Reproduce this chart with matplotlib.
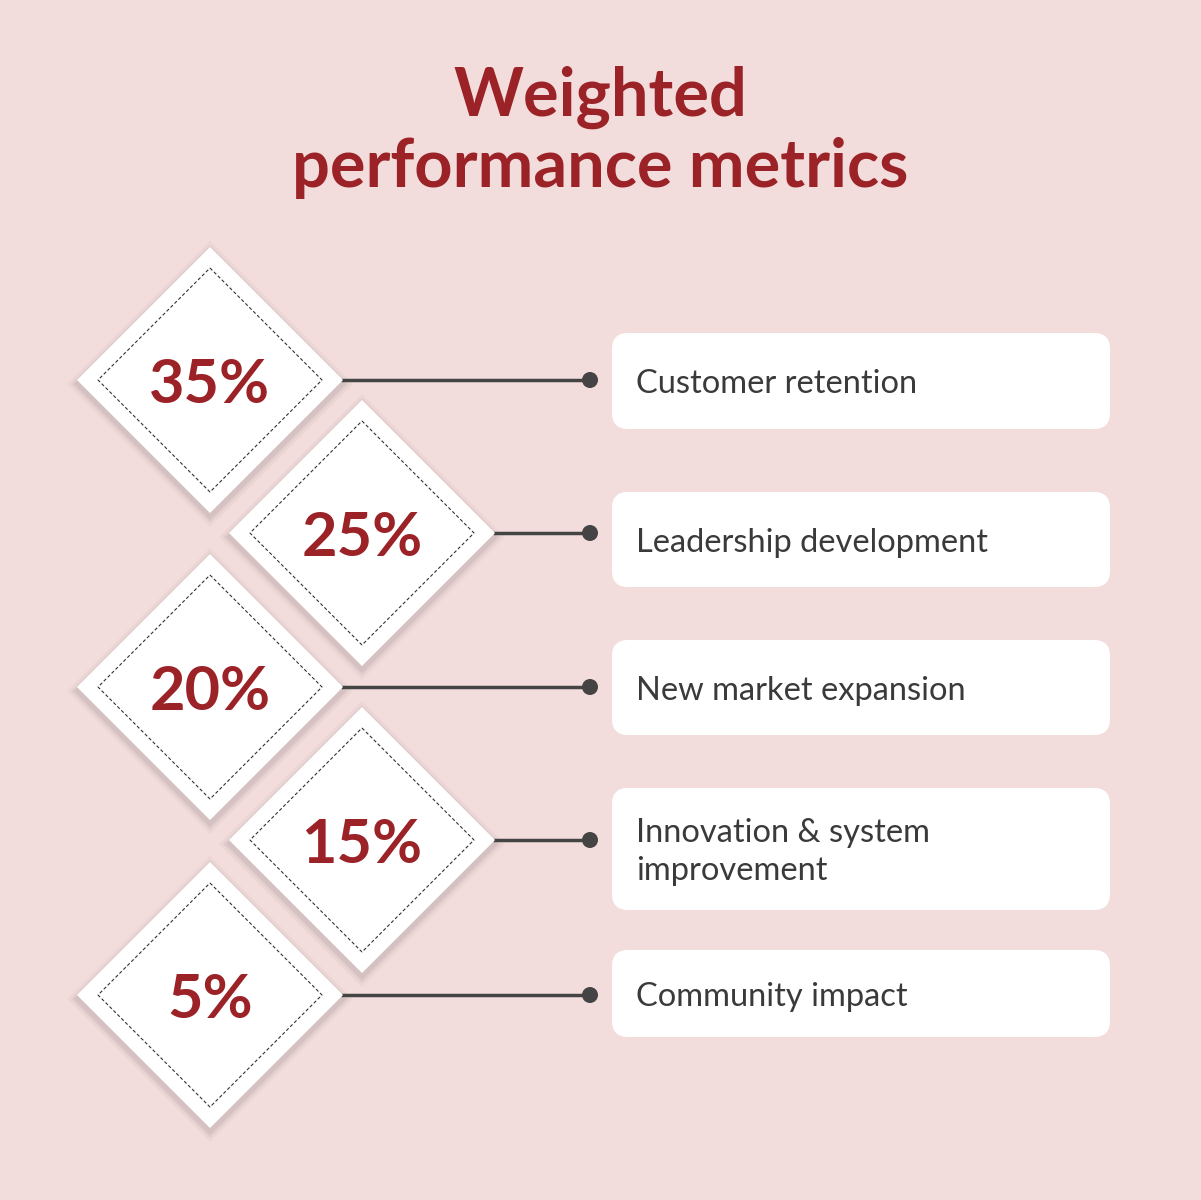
import matplotlib.pyplot as plt
from matplotlib.patches import Polygon, FancyBboxPatch, Circle

weights = [35, 25, 20, 15, 5]
labels = ["Customer retention", "Leadership development", "New market expansion",
          "Innovation & system\nimprovement", "Community impact"]
box_tops = [333, 492, 640, 788, 950]
box_bottoms = [429, 587, 735, 910, 1037]

bg = "#F3DCDC"
red = "#9B2226"
dark = "#3a3a3a"

fig = plt.figure(figsize=(12.01, 12), dpi=100, facecolor=bg)
ax = fig.add_axes([0, 0, 1, 1])
ax.set_xlim(0, 1201)
ax.set_ylim(1200, 0)
ax.axis("off")
ax.set_facecolor(bg)

ax.text(600, 97, "Weighted", ha="center", va="center", fontsize=48,
        fontweight="bold", color=red, family="Lato")
ax.text(600, 168, "performance metrics", ha="center", va="center", fontsize=48,
        fontweight="bold", color=red, family="Lato")

ys = [380, 533, 687, 840, 995]
for i, (w, lab) in enumerate(zip(weights, labels)):
    cx = 210 if i % 2 == 0 else 362
    cy = ys[i]
    h = 133
    # soft shadow
    for k, a in [(10, 0.03), (6, 0.04), (3, 0.05)]:
        ax.add_patch(Polygon([(cx, cy - h - k + 4), (cx + h + k, cy + 4), (cx, cy + h + k + 4),
                              (cx - h - k, cy + 4)], closed=True, fc="#000000", alpha=a, lw=0))
    ax.add_patch(Polygon([(cx, cy - h), (cx + h, cy), (cx, cy + h), (cx - h, cy)],
                         closed=True, fc="white", ec="none", zorder=3))
    hi = 112
    ax.add_patch(Polygon([(cx, cy - hi), (cx + hi, cy), (cx, cy + hi), (cx - hi, cy)],
                         closed=True, fc="none", ec="#333333", lw=0.8, ls=(0, (3, 2)), zorder=4))
    ax.text(cx, cy + 5, f"{w}%", ha="center", va="center", fontsize=44, fontweight="bold",
            color=red, family="Lato", zorder=5)
    ax.plot([cx + h, 590], [cy, cy], color="#444444", lw=2.5, zorder=2)
    ax.add_patch(Circle((590, cy), 8, fc="#444444", zorder=3))
    top, bot = box_tops[i], box_bottoms[i]
    ax.add_patch(FancyBboxPatch((612, top), 498, bot - top,
                                boxstyle="round,pad=0,rounding_size=16",
                                fc="white", ec="none", zorder=2))
    ax.text(636, (top + bot) / 2 + 3, lab, ha="left", va="center", fontsize=23.5,
            color=dark, family="Lato", linespacing=1.3, zorder=3)

fig.savefig("out.png", dpi=100, facecolor=bg)
